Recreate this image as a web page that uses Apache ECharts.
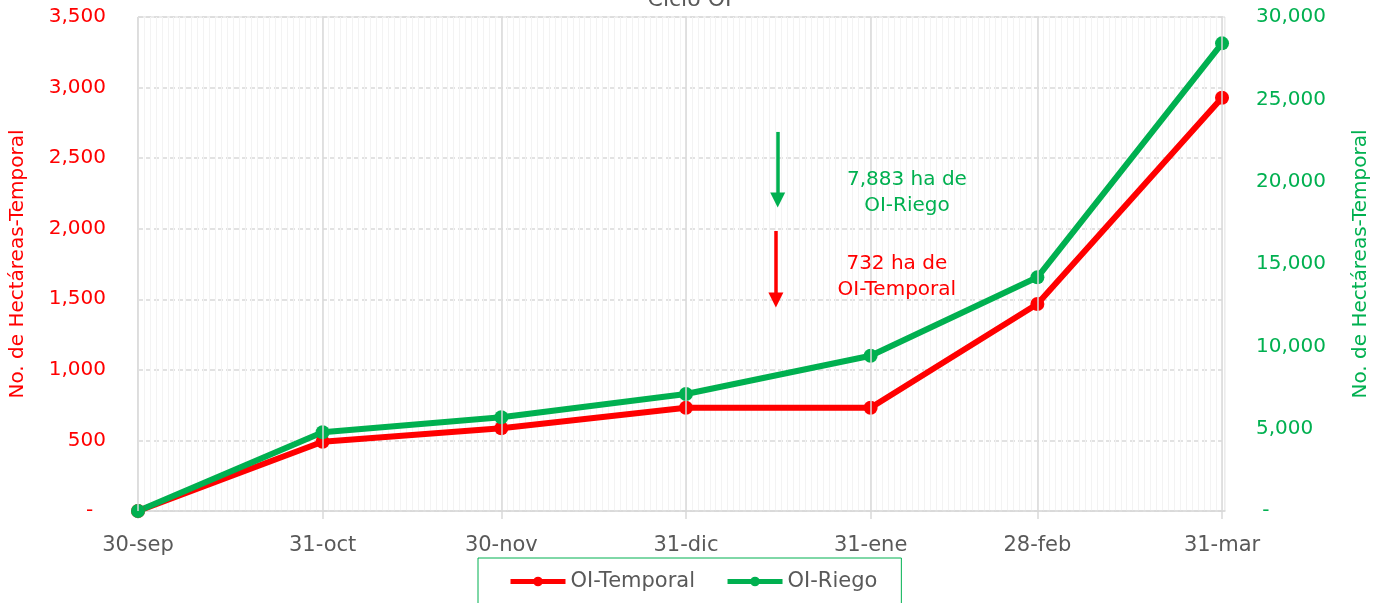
<!DOCTYPE html>
<html>
<head>
<meta charset="utf-8">
<script src="https://cdn.jsdelivr.net/npm/echarts@6/dist/echarts.min.js"></script>
<style>
html,body{margin:0;padding:0;background:#fff;}
#chart{width:1379px;height:603px;}
</style>
</head>
<body>
<div id="chart"></div>
<script>
// Categories: dates as day offsets from 30-sep
const xLabels = ['30-sep','31-oct','30-nov','31-dic','31-ene','28-feb','31-mar'];
const xDays = [0, 31, 61, 92, 123, 151, 182];
// Series values
const temporal = [0, 491, 586, 732, 732, 1467, 2928];
const riego = [0, 4780, 5690, 7105, 9430, 14190, 28400];
// Annotations (data space: day, value)
const riegoArrow = [107.4, 23020, 18890];
const temporalArrow = [107.1, 1984, 1495];
const riegoNote = [129.1, 19340, '7,883 ha de\nOI-Riego'];
const temporalNote = [127.4, 1658, '732 ha de\nOI-Temporal'];

const RED = '#FF0000', GREEN = '#00B050', GRAY = '#595959', GRID = '#D9D9D9';
const FONT = 'DejaVu Sans';

const chart = echarts.init(document.getElementById('chart'));
chart.setOption({
  animation: false,
  textStyle: { fontFamily: FONT },
  title: {
    text: 'Ciclo OI', left: 'center', top: -16,
    textStyle: { color: GRAY, fontSize: 22, fontWeight: 'normal', fontFamily: FONT }
  },
  legend: {
    data: ['OI-Temporal', 'OI-Riego'],
    left: 478, top: 558,
    padding: [13, 24, 13, 30],
    itemWidth: 55, itemHeight: 12, itemGap: 30,
    borderColor: GREEN, borderWidth: 1,
    lineStyle: { width: 5 },
    textStyle: { color: GRAY, fontSize: 21, fontFamily: FONT }
  },
  grid: {
    left: 138, right: 153, top: 17, bottom: 92,
    show: true, borderColor: GRID, borderWidth: 1
  },
  xAxis: [
    {
      type: 'value', position: 'top', min: 0, max: 182.5, interval: 1,
      axisLine: { show: false }, axisTick: { show: false }, axisLabel: { show: false },
      splitLine: { show: true, lineStyle: { color: '#F3F3F3', width: 1 } }
    },
    {
      type: 'value', position: 'bottom', min: 0, max: 182.5,
      axisLine: { show: true, lineStyle: { color: GRID, width: 1.5 } },
      axisTick: { show: true, customValues: xDays, length: 8, lineStyle: { color: GRID, width: 1.5 } },
      axisLabel: {
        customValues: xDays, color: GRAY, fontSize: 21, margin: 24, fontFamily: FONT,
        formatter: v => { const i = xDays.indexOf(v); return i >= 0 ? xLabels[i] : ''; }
      },
      splitLine: { show: false }
    }
  ],
  yAxis: [
    {
      type: 'value', min: 0, max: 3500, interval: 500, position: 'left',
      name: 'No. de Hectáreas-Temporal', nameLocation: 'middle', nameGap: 110, nameRotate: 90,
      nameTextStyle: { color: RED, fontSize: 20, fontFamily: FONT },
      axisLine: { show: false }, axisTick: { show: false },
      axisLabel: {
        color: RED, fontSize: 20, margin: 32, fontFamily: FONT,
        formatter: v => v === 0 ? '-  ' : v.toLocaleString('en-US')
      },
      splitLine: { show: true, lineStyle: { color: GRID, width: 1.5, type: [5, 3] } }
    },
    {
      type: 'value', min: 0, max: 30000, interval: 5000, position: 'right',
      name: 'No. de Hectáreas-Temporal', nameLocation: 'middle', nameGap: 126, nameRotate: 90,
      nameTextStyle: { color: GREEN, fontSize: 20, fontFamily: FONT },
      axisLine: { show: false }, axisTick: { show: false },
      axisLabel: {
        color: GREEN, fontSize: 20, margin: 31, fontFamily: FONT,
        formatter: v => v === 0 ? ' -' : v.toLocaleString('en-US')
      },
      splitLine: { show: false }
    }
  ],
  series: [
    {
      name: 'months', type: 'line', xAxisIndex: 1, yAxisIndex: 0, data: [], z: 1,
      silent: true,
      markLine: {
        silent: true, symbol: 'none', animation: false,
        label: { show: false },
        lineStyle: { color: GRID, type: 'solid', width: 1.5 },
        data: xDays.map(d => ({ xAxis: d }))
      }
    },
    {
      name: 'OI-Temporal', type: 'line', xAxisIndex: 1, yAxisIndex: 0,
      data: xDays.map((d, i) => [d, temporal[i]]),
      symbol: 'circle', symbolSize: 14,
      lineStyle: { color: RED, width: 6 },
      itemStyle: { color: RED },
      markLine: {
        silent: true, symbol: ['none', 'triangle'], symbolSize: [15, 15],
        label: { show: false },
        lineStyle: { color: RED, type: 'solid', width: 3.5 },
        data: [[{ coord: [temporalArrow[0], temporalArrow[1]] }, { coord: [temporalArrow[0], temporalArrow[2]] }]]
      },
      markPoint: {
        silent: true, symbol: 'rect', symbolSize: 1, itemStyle: { color: 'rgba(0,0,0,0)' },
        data: [{
          coord: [temporalNote[0], temporalNote[1]],
          label: { show: true, position: 'inside', formatter: temporalNote[2], color: RED, fontSize: 20, lineHeight: 26, fontFamily: FONT, align: 'center' }
        }]
      }
    },
    {
      name: 'OI-Riego', type: 'line', xAxisIndex: 1, yAxisIndex: 1,
      data: xDays.map((d, i) => [d, riego[i]]),
      symbol: 'circle', symbolSize: 14,
      lineStyle: { color: GREEN, width: 6 },
      itemStyle: { color: GREEN },
      markLine: {
        silent: true, symbol: ['none', 'triangle'], symbolSize: [15, 15],
        label: { show: false },
        lineStyle: { color: GREEN, type: 'solid', width: 3.5 },
        data: [[{ coord: [riegoArrow[0], riegoArrow[1]] }, { coord: [riegoArrow[0], riegoArrow[2]] }]]
      },
      markPoint: {
        silent: true, symbol: 'rect', symbolSize: 1, itemStyle: { color: 'rgba(0,0,0,0)' },
        data: [{
          coord: [riegoNote[0], riegoNote[1]],
          label: { show: true, position: 'inside', formatter: riegoNote[2], color: GREEN, fontSize: 20, lineHeight: 26, fontFamily: FONT, align: 'center' }
        }]
      }
    }
  ]
});
</script>
</body>
</html>
